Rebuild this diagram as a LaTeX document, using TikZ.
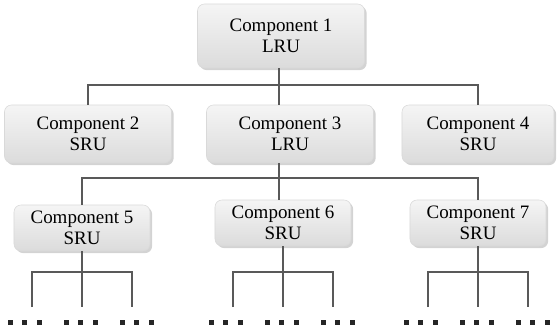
\documentclass[tikz,border=0pt]{standalone}
\usepackage{fontspec}
\setmainfont{Liberation Serif}
\usepackage{xcolor}
\usepackage{tikz}
\usetikzlibrary{calc, shadows}

\tikzset{
	comp/.style={rectangle, rounded corners=5pt, draw=gray!30, top color=gray!8, bottom color=gray!28,
		drop shadow={shadow xshift=1.5pt, shadow yshift=-1.5pt, opacity=0.35, fill=gray},
		align=center, inner sep=0pt, minimum width=4.175cm, minimum height=1.45cm,
		font=\fontsize{13.5}{15}\selectfont},
	subcomp/.style={comp, minimum width=3.4cm, minimum height=1.15cm},
	tree/.style={line width=1.4pt, draw=gray!70!black},
	dot/.style={fill=black!85}
}

\begin{document}
\begin{tikzpicture}[x=0.025cm, y=-0.025cm]
			\useasboundingbox (0,0) rectangle (557,328);

			\node [comp, minimum height=1.6cm] (c1) at (281,36) {Component 1\\LRU};
			\node [comp] (c2) at (88,134) {Component 2\\SRU};
			\node [comp] (c3) at (290,134) {Component 3\\LRU};
			\node [comp, minimum width=3.8cm] (c4) at (478,134) {Component 4\\SRU};
			\node [subcomp] (c5) at (82,228) {Component 5\\SRU};
			\node [subcomp] (c6) at (283,223) {Component 6\\SRU};
			\node [subcomp] (c7) at (478,223) {Component 7\\SRU};

			\coordinate (spine) at (279,0);
			\coordinate (bus1) at (0,85);
			\coordinate (bus2) at (0,178);
			\coordinate (bar) at (0,272);
			\coordinate (legs) at (0,307);
			\coordinate (dots) at (0,322);

			\draw [tree] (spine |- c1.south) to (spine |- c3.north);
			\draw [tree] (c2.north) -- (c2.north |- bus1) -- (c4.north |- bus1) -- (c4.north);
			\draw [tree] (spine |- c3.south) to (spine |- c6.north);
			\draw [tree] (c5.north) -- (c5.north |- bus2) -- (c7.north |- bus2) -- (c7.north);

			\foreach \c in {c5, c6, c7} {
				\coordinate (\c-a) at ($(\c.south |- bar)+(-50,0)$);
				\coordinate (\c-b) at ($(\c.south |- bar)+(50,0)$);
				\draw [tree] (\c.south) -- (\c.south |- legs);
				\draw [tree] (\c-a |- legs) -- (\c-a) -- (\c-b) -- (\c-b |- legs);
				\foreach \gx in {-56, 0, 56}
					\foreach \d in {-14.5, 0, 14.5}
						\fill [dot] ($(\c.south |- dots)+({\gx+\d-4},-2.5)$) rectangle +(5,5);
			}
		\end{tikzpicture}
\end{document}
